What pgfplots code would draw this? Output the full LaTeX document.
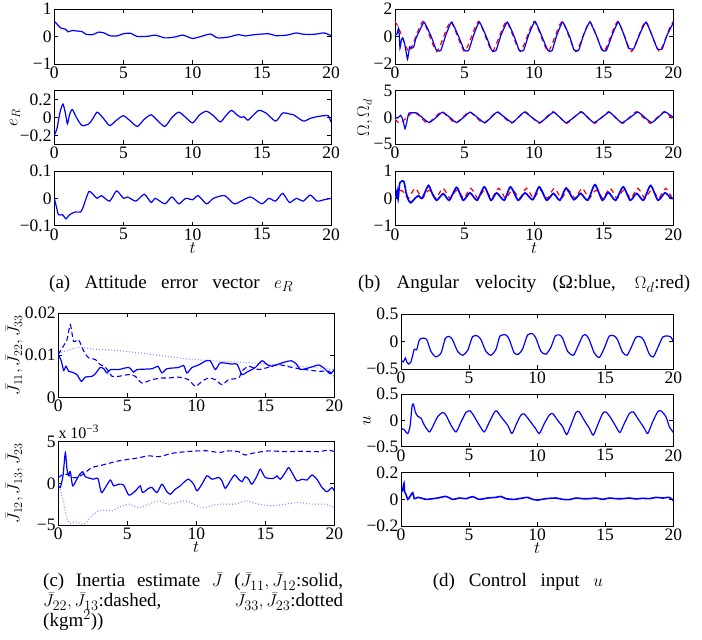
\documentclass[border=0pt]{standalone}
\usepackage{fontspec}
\setmainfont{Liberation Serif}
\usepackage{pgfplots}
\pgfplotsset{compat=1.18}

\pgfplotsset{
  mat/.style={scale only axis, anchor=north west,
    xmin=0, xmax=20, xtick={0,5,10,15,20}, xticklabels={0,5,10,15,20},
    scaled y ticks=false,
    tick align=inside, major tick length=4pt,
    axis line style={line width=0.8pt},
    every tick/.style={black,line width=0.6pt},
    tick label style={font=\fontsize{17.5}{18}\selectfont, inner sep=2.5pt},
    label style={font=\fontsize{17.5}{18}\selectfont},
    xlabel style={at={(axis description cs:0.5,0)}, anchor=center, yshift=-22pt},
  },
  bl/.style={blue, line width=1.2pt, smooth, tension=0.4},
  rd/.style={red, line width=1.2pt, dash pattern=on 5pt off 4pt, smooth, tension=0.3},
  bd/.style={blue, line width=1.1pt, dash pattern=on 5pt off 3pt, smooth, tension=0.4},
  bt/.style={blue!45, line width=1.1pt, dash pattern=on 1pt off 2pt, smooth, tension=0.4},
}

\begin{document}
\begin{tikzpicture}
\useasboundingbox (0pt,0pt) rectangle (702pt,-640pt);

% ---------- (a) attitude error ----------
\begin{axis}[mat, at={(54.3pt,-9pt)}, width=276.7pt, height=55pt,
  ymin=-1, ymax=1, ytick={-1,0,1}, yticklabels={−1,0,1}]
\addplot[bl] coordinates {(0,0.56) (0.25,0.42) (0.5,0.3) (0.8,0.27) (1.0,0.17) (1.3,0.22) (1.6,0.2) (2.0,0.18) (2.3,0.08) (2.8,0.07) (3.2,0.16) (3.6,0.13) (4.0,0.03) (4.5,0.02) (5.0,0.1) (5.5,0.12) (6.0,0.0) (6.8,0.01) (7.3,0.05) (8.0,-0.05) (8.7,-0.02) (9.3,0.05) (10.0,-0.07) (10.8,0.03) (11.3,0.09) (11.8,-0.05) (12.6,-0.02) (13.3,0.07) (13.8,0.02) (14.5,0.07) (15.5,0.1) (16.0,0.03) (16.8,0.05) (17.5,0.13) (18.0,0.08) (18.8,0.08) (19.5,0.13) (20.0,0.03)};
\end{axis}
\begin{axis}[mat, at={(54.3pt,-90.7pt)}, width=276.7pt, height=53.6pt,
  ymin=-0.3, ymax=0.3, ytick={-0.2,0,0.2}, yticklabels={−0.2,0,0.2},
  ylabel={$e_R$}, ylabel style={at={(axis description cs:-0.142,0.5)}, anchor=center}]
\addplot[bl] coordinates {(0,-0.2) (0.2,-0.12) (0.4,0.05) (0.62,0.15) (0.8,0.05) (0.95,-0.07) (1.1,0.03) (1.3,0.09) (1.6,0.0) (2.0,-0.09) (2.5,-0.07) (2.8,-0.01) (3.1,0.06) (3.5,0.0) (4.0,-0.09) (4.5,-0.03) (5.0,0.02) (5.5,-0.04) (6.0,-0.1) (6.5,-0.02) (7.0,0.03) (7.5,-0.04) (8.0,-0.1) (8.5,0.0) (9.0,0.06) (9.5,0.0) (10.0,-0.06) (10.5,0.03) (11.0,0.07) (11.5,0.02) (12.0,-0.05) (12.4,0.02) (12.8,0.08) (13.2,0.03) (13.5,0.0) (13.7,0.01) (14.0,-0.03) (14.4,0.03) (14.8,0.08) (15.3,0.05) (16.0,-0.04) (16.5,0.05) (17.0,0.04) (17.3,0.03) (18.0,-0.04) (18.5,-0.01) (19.0,0.01) (19.5,0.02) (19.8,0.02) (20.0,-0.05)};
\end{axis}
\begin{axis}[mat, at={(54.3pt,-171pt)}, width=276.7pt, height=54.7pt,
  ymin=-0.1, ymax=0.1, ytick={-0.1,0,0.1}, yticklabels={−0.1,0,0.1}, xlabel={$t$}]
\addplot[bl] coordinates {(0,0.0) (0.15,-0.03) (0.3,-0.06) (0.6,-0.06) (0.85,-0.075) (1.1,-0.06) (1.5,-0.05) (1.9,-0.05) (2.1,-0.03) (2.3,0.0) (2.5,0.025) (2.7,0.02) (3.1,0.0) (3.4,0.01) (4.0,-0.01) (4.5,0.027) (5.0,0.0) (5.3,0.005) (5.9,-0.01) (6.5,0.015) (7.0,-0.015) (7.3,0.0) (8.0,-0.02) (8.5,0.005) (9.0,-0.02) (9.5,0.0) (10.0,-0.005) (10.4,0.01) (11.0,-0.02) (11.5,0.0) (12.3,0.01) (13.0,-0.02) (13.5,-0.01) (14.2,0.005) (15.0,-0.02) (15.5,0.0) (16.0,-0.01) (16.5,0.018) (17.0,-0.015) (17.5,0.0) (18.0,-0.01) (18.5,0.012) (19.0,-0.01) (19.5,-0.005) (20.0,0.0)};
\end{axis}

% ---------- (b) angular velocity ----------
\begin{axis}[mat, at={(395pt,-9pt)}, width=278.3pt, height=55pt,
  ymin=-2, ymax=2, ytick={-2,0,2}, yticklabels={−2,0,2}]
\addplot[rd] coordinates {(0,1.1) (0.25,0.65) (0.5,0) (0.75,-0.65) (1,-1.1) (1.25,-0.65) (1.5,0) (1.75,0.65) (2,1.1) (2.25,0.65) (2.5,0) (2.75,-0.65) (3,-1.1) (3.25,-0.65) (3.5,0) (3.75,0.65) (4,1.1) (4.25,0.65) (4.5,0) (4.75,-0.65) (5,-1.1) (5.25,-0.65) (5.5,0) (5.75,0.65) (6,1.1) (6.25,0.65) (6.5,0) (6.75,-0.65) (7,-1.1) (7.25,-0.65) (7.5,0) (7.75,0.65) (8,1.1) (8.25,0.65) (8.5,0) (8.75,-0.65) (9,-1.1) (9.25,-0.65) (9.5,0) (9.75,0.65) (10,1.1) (10.25,0.65) (10.5,0) (10.75,-0.65) (11,-1.1) (11.25,-0.65) (11.5,0) (11.75,0.65) (12,1.1) (12.25,0.65) (12.5,0) (12.75,-0.65) (13,-1.1) (13.25,-0.65) (13.5,0) (13.75,0.65) (14,1.1) (14.25,0.65) (14.5,0) (14.75,-0.65) (15,-1.1) (15.25,-0.65) (15.5,0) (15.75,0.65) (16,1.1) (16.25,0.65) (16.5,0) (16.75,-0.65) (17,-1.1) (17.25,-0.65) (17.5,0) (17.75,0.65) (18,1.1) (18.25,0.65) (18.5,0) (18.75,-0.65) (19,-1.1) (19.25,-0.65) (19.5,0) (19.75,0.65) (20,1.1)};
\addplot[bl, tension=0.25] coordinates {(0,0.1) (0.15,0.2) (0.25,0.6) (0.3,0.2) (0.36,-0.85) (0.45,-0.3) (0.55,-0.1) (0.7,-0.55) (0.9,-1.65) (1.05,-0.75) (1.2,-0.85) (1.35,-0.75) (1.5,-0.15) (1.8,0.5) (2.1,1.03)
 (2.6,0.0) (2.95,-0.95) (3.1,-1.05) (3.3,-1.0) (3.6,-0.05) (3.65,0.1) (4.07,1.05)
 (4.57,0.0) (4.95,-0.95) (5.1,-1.05) (5.3,-1.0) (5.6,-0.05) (5.65,0.1) (6.06,1.05)
 (6.56,0.0) (6.92,-0.95) (7.07,-1.08) (7.27,-1.0) (7.57,-0.05) (7.62,0.1) (8.07,1.05)
 (8.57,0.0) (8.9,-0.95) (9.05,-1.05) (9.25,-1.0) (9.55,-0.05) (9.6,0.1) (10.06,1.1)
 (10.56,0.0) (10.95,-0.95) (11.1,-1.08) (11.3,-1.0) (11.58,-0.05) (11.63,0.1) (12.05,1.05)
 (12.55,0.0) (12.85,-0.95) (13.0,-1.05) (13.2,-1.0) (13.5,-0.05) (13.55,0.1) (14.0,1.05)
 (14.5,0.0) (14.85,-0.95) (15.0,-1.05) (15.2,-1.0) (15.55,-0.05) (15.6,0.1) (16.05,1.05)
 (16.5,0.0) (16.78,-0.85) (16.93,-0.9) (17.15,-0.9) (17.5,-0.05) (17.55,0.1) (18.04,1.05)
 (18.5,0.0) (18.85,-0.9) (19.0,-0.95) (19.2,-0.9) (19.5,-0.05) (19.6,0.2) (20.0,1.0)};
\end{axis}
\begin{axis}[mat, at={(395pt,-90.7pt)}, width=278.3pt, height=53.6pt,
  ymin=-5, ymax=5, ytick={-5,0,5}, yticklabels={−5,0,5},
  ylabel={$\Omega,\Omega_d$}, ylabel style={at={(axis description cs:-0.108,0.5)}, anchor=center}]
\addplot[rd] coordinates {(0,-0.33) (0.35,-1.1) (0.85,0) (1.35,1.1) (1.85,0) (2.35,-1.1) (2.85,0) (3.35,1.1) (3.85,0) (4.35,-1.1) (4.85,0) (5.35,1.1) (5.85,0) (6.35,-1.1) (6.85,0) (7.35,1.1) (7.85,0) (8.35,-1.1) (8.85,0) (9.35,1.1) (9.85,0) (10.35,-1.1) (10.85,0) (11.35,1.1) (11.85,0) (12.35,-1.1) (12.85,0) (13.35,1.1) (13.85,0) (14.35,-1.1) (14.85,0) (15.35,1.1) (15.85,0) (16.35,-1.1) (16.85,0) (17.35,1.1) (17.85,0) (18.35,-1.1) (18.85,0) (19.35,1.1) (19.85,0) (20,-0.33)};
\addplot[bl, tension=0.3] coordinates {(0,0) (0.2,-0.1) (0.4,0.4) (0.55,-0.3) (0.72,-2.1) (0.85,-0.8) (1.0,0.8) (1.44,0.9) (1.6,0.8) (1.95,0.0) (2.45,-0.95) (2.95,0.0) (3.42,1.0) (3.95,0.0) (4.43,-0.95) (4.92,0.0) (5.4,1.0) (5.93,0.0) (6.45,-0.98) (6.9,0.0) (7.35,1.0) (7.9,0.0) (8.43,-0.95) (8.85,0.0) (9.3,1.0) (9.85,0.0) (10.4,-0.95) (10.9,0.0) (11.4,1.0) (11.85,0.0) (12.3,-0.98) (12.85,0.0) (13.4,1.05) (13.85,0.0) (14.3,-0.95) (14.85,0.0) (15.4,1.0) (15.85,0.0) (16.3,-0.98) (16.9,0.0) (17.45,1.02) (17.95,0.0) (18.45,-0.95) (18.9,0.0) (19.4,1.05) (20.0,0.0)};
\end{axis}
\begin{axis}[mat, at={(395pt,-171pt)}, width=278.3pt, height=54.7pt,
  ymin=-1, ymax=1, ytick={-1,0,1}, yticklabels={−1,0,1}, xlabel={$t$}]
\addplot[rd, tension=0.5] coordinates {(0,0) (0.2,0.165) (0.45,0.3) (0.7,0.165) (0.95,0) (1.2,0.2) (1.45,0.37) (1.7,0.2) (1.95,0) (2.2,0.165) (2.45,0.3) (2.7,0.165) (2.95,0) (3.2,0.2) (3.45,0.37) (3.7,0.2) (3.95,0) (4.2,0.165) (4.45,0.3) (4.7,0.165) (4.95,0) (5.2,0.2) (5.45,0.37) (5.7,0.2) (5.95,0) (6.2,0.165) (6.45,0.3) (6.7,0.165) (6.95,0) (7.2,0.2) (7.45,0.37) (7.7,0.2) (7.95,0) (8.2,0.165) (8.45,0.3) (8.7,0.165) (8.95,0) (9.2,0.2) (9.45,0.37) (9.7,0.2) (9.95,0) (10.2,0.165) (10.45,0.3) (10.7,0.165) (10.95,0) (11.2,0.2) (11.45,0.37) (11.7,0.2) (11.95,0) (12.2,0.165) (12.45,0.3) (12.7,0.165) (12.95,0) (13.2,0.2) (13.45,0.37) (13.7,0.2) (13.95,0) (14.2,0.165) (14.45,0.3) (14.7,0.165) (14.95,0) (15.2,0.2) (15.45,0.37) (15.7,0.2) (15.95,0) (16.2,0.165) (16.45,0.3) (16.7,0.165) (16.95,0) (17.2,0.2) (17.45,0.37) (17.7,0.2) (17.95,0) (18.2,0.165) (18.45,0.3) (18.7,0.165) (18.95,0) (19.2,0.2) (19.45,0.37) (19.7,0.2) (19.95,0) (20,0.02)};
\addplot[bl, line width=1.7pt] coordinates {(0,0) (0.1,0.05) (0.15,0.27) (0.22,-0.03) (0.3,0.4) (0.35,0.57) (0.48,0.63) (0.65,0.6) (0.8,0.2) (0.95,-0.04) (1.13,-0.16) (1.44,0.0) (1.7,0.1) (1.95,0.0) (2.4,0.47) (2.7,0.15) (3.0,-0.07) (3.47,0.17) (3.9,-0.07) (4.43,0.4) (4.9,-0.07) (5.39,0.2) (5.9,-0.07) (6.42,0.42) (6.9,-0.07) (7.3,0.2) (7.85,-0.07) (8.3,0.42) (8.85,-0.07) (9.34,0.2) (9.9,-0.05) (10.37,0.42) (10.9,-0.07) (11.38,0.18) (11.85,-0.07) (12.3,0.38) (12.85,-0.05) (13.34,0.18) (13.85,-0.07) (14.37,0.5) (14.9,-0.07) (15.33,0.22) (15.85,-0.07) (16.4,0.42) (16.9,-0.07) (17.37,0.18) (17.85,-0.07) (18.37,0.47) (18.9,-0.07) (19.4,0.2) (19.85,0.0) (20,0.0)};
\end{axis}

% ---------- (c) inertia estimate ----------
\begin{axis}[mat, at={(58.3pt,-313.3pt)}, width=276pt, height=84pt,
  ymin=0, ymax=0.02, ytick={0,0.01,0.02}, yticklabels={0,0.01,0.02},
  ylabel={$\bar J_{11}, \bar J_{22}, \bar J_{33}$}, ylabel style={at={(axis description cs:-0.16,0.5)}, anchor=center}]
\addplot[bt] coordinates {(0,0.0104) (0.5,0.011) (1.5,0.0119) (2.5,0.0115) (4.4,0.0111) (6.8,0.0102) (9.2,0.0092) (11.6,0.0086) (14.0,0.0082) (16.4,0.0076) (18.9,0.007) (20,0.0066)};
\addplot[bd] coordinates {(0,0.0102) (0.27,0.0117) (0.63,0.0137) (0.87,0.0173) (1.11,0.0133) (1.47,0.0137) (1.84,0.011) (2.2,0.0094) (2.68,0.009) (3.04,0.0078) (3.41,0.0071) (3.65,0.0062) (3.89,0.005) (4.37,0.005) (5.1,0.0054) (5.58,0.005) (6.06,0.0034) (6.79,0.0042) (7.51,0.0046) (8.0,0.0046) (8.72,0.0048) (9.44,0.0042) (9.93,0.0026) (10.41,0.0038) (10.89,0.0046) (11.38,0.0042) (11.86,0.003) (12.34,0.0042) (13.07,0.0046) (13.31,0.0062) (13.79,0.0074) (14.52,0.0066) (15.48,0.0074) (15.97,0.0078) (16.93,0.0071) (17.9,0.0066) (18.86,0.0062) (19.59,0.0062) (20,0.005)};
\addplot[bl] coordinates {(0,0.0102) (0.22,0.0086) (0.39,0.0064) (0.56,0.0074) (0.75,0.0062) (0.99,0.006) (1.35,0.0054) (1.67,0.0038) (1.96,0.0048) (2.44,0.005) (2.68,0.0056) (3.04,0.0071) (3.29,0.0068) (3.53,0.0058) (3.77,0.0066) (4.37,0.0066) (5.1,0.0071) (5.46,0.006) (5.7,0.0066) (6.79,0.0068) (7.22,0.0074) (7.51,0.0058) (7.87,0.0068) (8.72,0.0071) (9.08,0.0076) (9.32,0.0058) (9.69,0.0071) (10.17,0.0077) (10.65,0.0086) (11.01,0.0087) (11.38,0.0066) (11.74,0.0082) (12.58,0.0079) (12.95,0.0079) (13.31,0.0054) (13.67,0.006) (14.28,0.0071) (14.76,0.0087) (15.12,0.0078) (15.48,0.0074) (16.21,0.0082) (16.88,0.0087) (17.29,0.0078) (17.54,0.0066) (18.14,0.007) (18.86,0.0077) (19.23,0.007) (19.71,0.0056) (20,0.0066)};
\end{axis}
\begin{axis}[mat, at={(58.3pt,-441.7pt)}, width=276pt, height=83.3pt,
  clip mode=individual,
  ymin=-5, ymax=5, ytick={-5,0,5}, yticklabels={−5,0,5}, xlabel={$t$},
  ylabel={$\bar J_{12}, \bar J_{13}, \bar J_{23}$}, ylabel style={at={(axis description cs:-0.16,0.5)}, anchor=center}]
\addplot[bt] coordinates {(0,0) (0.14,-0.7) (0.39,-2.3) (0.63,-4.3) (0.87,-4.8) (1.23,-4.6) (1.71,-4.9) (1.96,-4.8) (2.44,-3.9) (2.92,-3.3) (3.41,-3.2) (3.89,-3.3) (4.37,-2.9) (5.1,-2.5) (5.82,-2.9) (6.55,-2.5) (7.27,-2.1) (8.0,-2.5) (9.2,-2.1) (10.41,-2.9) (11.62,-2.5) (12.82,-2.5) (13.55,-2.1) (14.52,-2.5) (15.48,-2.7) (16.45,-2.5) (17.41,-2.3) (18.38,-2.5) (19.35,-2.5) (20,-2.9)};
\addplot[bd] coordinates {(0,0.7) (0.27,1.0) (0.63,1.1) (0.99,0.7) (1.35,0.7) (1.71,1.0) (1.96,1.3) (2.44,1.9) (3.2,2.2) (4.37,2.7) (5.58,3.0) (6.55,3.3) (7.27,3.2) (8.24,3.6) (9.2,3.8) (10.17,3.9) (10.89,3.9) (11.62,3.7) (12.34,3.9) (13.07,3.8) (13.55,3.4) (14.03,3.6) (15.24,3.9) (16.45,3.8) (17.66,3.85) (18.86,3.8) (19.59,4.0) (20,3.8)};
\addplot[bl] coordinates {(0,-0.3) (0.14,-0.5) (0.34,0.9) (0.51,3.7) (0.63,1.7) (0.75,1.0) (0.87,1.4) (1.04,-0.3) (1.28,0.3) (1.52,1.0) (1.76,1.4) (1.96,0.8) (2.56,0.5) (2.87,0.6) (3.12,-1.1) (3.41,-0.5) (3.77,0.4) (4.01,-0.3) (4.37,-0.1) (4.73,-0.2) (5.1,-1.4) (5.46,-1.1) (5.7,-0.7) (5.94,-0.3) (6.11,-1.1) (6.55,-0.6) (6.79,-0.5) (7.15,-1.1) (7.51,-0.1) (7.87,-1.0) (8.12,-1.3) (8.48,-0.7) (8.84,-0.3) (9.08,0.1) (9.44,0.5) (9.81,-0.1) (10.05,-0.9) (10.41,-0.1) (10.77,0.9) (11.14,0.5) (11.62,0.7) (11.86,0.3) (12.1,-0.6) (12.46,0.3) (12.78,1.0) (13.07,0.5) (13.31,0.2) (13.55,0.8) (13.79,0.5) (14.03,-0.1) (14.4,0.9) (14.64,1.7) (15.0,0.7) (15.6,0.6) (15.85,0.9) (16.09,0.5) (16.45,1.3) (16.69,1.9) (16.93,1.3) (17.29,0.3) (17.66,0.5) (18.02,0.4) (18.38,1.0) (18.74,0.5) (19.11,-0.5) (19.47,-1.0) (19.83,-0.5) (20,-0.9)};
\node[anchor=base west, font=\fontsize{16}{16}\selectfont, inner sep=0pt] at (rel axis cs:0,1) [yshift=3pt] {x 10\textsuperscript{−3}};
\end{axis}

% ---------- (d) control input ----------
\begin{axis}[mat, at={(401pt,-314pt)}, width=272.3pt, height=55pt,
  ymin=-0.5, ymax=0.5, ytick={-0.5,0,0.5}, yticklabels={−0.5,0,0.5}]
\addplot[bl] coordinates {(0,-0.34) (0.17,-0.37) (0.32,-0.3) (0.42,-0.37) (0.56,-0.41) (0.73,-0.37) (0.86,-0.25) (0.98,-0.14) (1.15,-0.15) (1.35,0.03) (1.59,0.06) (1.88,0.04) (2.2,-0.18) (2.57,-0.28) (2.94,-0.21) (3.26,0.06) (3.55,0.09) (3.79,0.03) (4.16,-0.18) (4.53,-0.25) (4.9,-0.16) (5.26,0.09) (5.63,0.1) (5.88,0.03) (6.24,-0.18) (6.61,-0.25) (6.98,-0.14) (7.27,0.1) (7.71,0.12) (7.96,0.03) (8.32,-0.21) (8.64,-0.23) (8.94,-0.13) (9.3,0.12) (9.67,0.14) (9.91,0.06) (10.28,-0.18) (10.65,-0.23) (11.02,-0.1) (11.33,0.1) (11.63,0.12) (11.87,0.06) (12.24,-0.18) (12.66,-0.25) (12.97,-0.1) (13.34,0.1) (13.59,0.12) (13.83,0.03) (14.2,-0.21) (14.57,-0.29) (14.93,-0.12) (15.3,0.1) (15.67,0.1) (15.91,0.03) (16.28,-0.2) (16.6,-0.25) (16.89,-0.12) (17.26,0.08) (17.63,0.08) (17.87,0.0) (18.24,-0.23) (18.53,-0.28) (18.85,-0.12) (19.22,0.08) (19.58,0.1) (19.83,0.08) (20,0.0)};
\end{axis}
\begin{axis}[mat, at={(401pt,-394pt)}, width=272.3pt, height=52.7pt,
  ymin=-0.5, ymax=0.5, ytick={-0.5,0,0.5}, yticklabels={−0.5,0,0.5},
  ylabel={$u$}, ylabel style={at={(axis description cs:-0.125,0.5)}, anchor=center}]
\addplot[bl] coordinates {(0,-0.15) (0.24,-0.18) (0.49,-0.25) (0.66,-0.12) (0.81,0.26) (0.91,0.31) (1.05,0.16) (1.22,0.08) (1.47,0.04) (1.71,-0.09) (2.08,-0.22) (2.33,-0.12) (2.69,0.07) (3.06,0.15) (3.3,0.1) (3.67,-0.09) (4.04,-0.22) (4.41,-0.03) (4.77,0.15) (5.07,0.18) (5.39,0.07) (5.75,-0.09) (6.12,-0.22) (6.49,-0.03) (6.85,0.15) (7.03,0.18) (7.34,0.07) (7.83,-0.09) (8.15,-0.25) (8.49,-0.06) (8.81,0.1) (9.06,0.12) (9.43,0.0) (9.87,-0.15) (10.16,-0.25) (10.53,-0.06) (10.89,0.1) (11.14,0.13) (11.51,0.0) (11.87,-0.12) (12.17,-0.27) (12.48,-0.09) (12.85,0.15) (13.1,0.16) (13.46,0.0) (13.83,-0.15) (14.12,-0.28) (14.44,-0.09) (14.81,0.13) (15.06,0.16) (15.42,0.04) (15.79,-0.12) (16.08,-0.23) (16.4,-0.06) (16.77,0.13) (17.06,0.16) (17.38,0.04) (17.87,-0.15) (18.12,-0.25) (18.48,-0.03) (18.85,0.16) (19.09,0.18) (19.46,0.07) (19.71,-0.12) (20,-0.23)};
\end{axis}
\begin{axis}[mat, at={(401pt,-472.7pt)}, width=272.3pt, height=53.3pt,
  ymin=-0.2, ymax=0.2, ytick={-0.2,0,0.2}, yticklabels={−0.2,0,0.2}, xlabel={$t$}]
\addplot[bl, line width=1.6pt] coordinates {(0,0.05) (0.12,0.07) (0.22,0.12) (0.26,0.06) (0.37,0.035) (0.5,0.0) (0.62,0.015) (0.86,0.05) (0.98,0.005) (1.22,0.015) (1.47,0.01) (1.84,0.0) (2.33,0.005) (2.69,0.01) (3.3,0.022) (3.8,0.0) (4.3,0.01) (4.77,0.005) (5.26,0.02) (5.75,0.0) (6.36,0.01) (6.98,0.015) (7.34,0.022) (7.71,0.005) (8.32,0.0) (8.94,0.01) (9.3,0.015) (9.67,0.0) (10.04,-0.005) (10.65,0.005) (11.38,0.01) (11.87,0.0) (12.36,-0.002) (12.85,0.01) (13.34,0.005) (13.83,0.005) (14.32,0.01) (14.81,0.0) (15.3,0.01) (15.79,0.005) (16.28,0.005) (16.77,0.01) (17.26,0.003) (17.75,0.008) (18.24,0.005) (18.73,0.015) (19.22,0.01) (19.71,0.015) (20,-0.008)};
\end{axis}

% ---------- captions ----------
\begin{scope}[every node/.style={font=\fontsize{19}{20}\selectfont, inner sep=0pt, anchor=base west}]
\node at (49pt,-288pt) {\makebox[244pt][s]{(a) Attitude error vector $e_R$}};
\node at (358pt,-288pt) {\makebox[332pt][s]{(b) Angular velocity (Ω:blue, $\Omega_d$:red)}};
\node at (43pt,-586.7pt) {\makebox[300pt][s]{(c) Inertia estimate $\bar J$ ($\bar J_{11}, \bar J_{12}$:solid,}};
\node at (43pt,-606.7pt) {\makebox[300pt][l]{$\bar J_{22}, \bar J_{13}$:dashed,\hfill$\bar J_{33}, \bar J_{23}$:dotted}};
\node at (43pt,-626pt) {(kgm$^2$))};
\node at (432.7pt,-586pt) {\makebox[170pt][s]{(d) Control input $u$}};
\end{scope}
\end{tikzpicture}
\end{document}
